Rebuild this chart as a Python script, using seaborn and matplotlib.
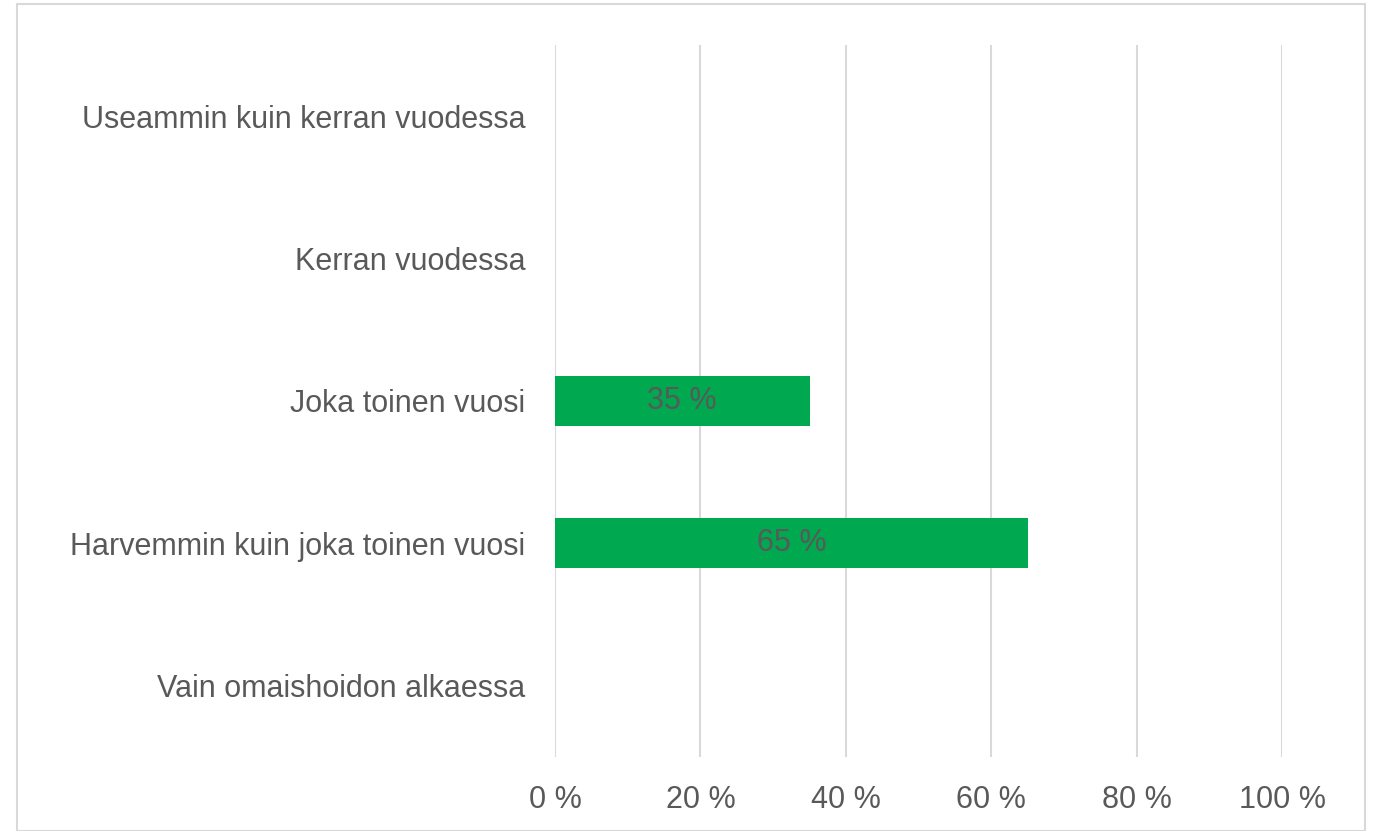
import matplotlib
matplotlib.use("Agg")
import matplotlib.pyplot as plt
import seaborn as sns
import pandas as pd
from matplotlib.patches import Rectangle

categories = ["Useammin kuin kerran vuodessa", "Kerran vuodessa", "Joka toinen vuosi",
              "Harvemmin kuin joka toinen vuosi", "Vain omaishoidon alkaessa"]
values = [0, 0, 35, 65, 0]
xticks = [0, 20, 40, 60, 80, 100]
xtick_labels = ["0 %", "20 %", "40 %", "60 %", "80 %", "100 %"]

sns.set_style("white")
plt.rcParams['font.family'] = ['Liberation Sans', 'DejaVu Sans']

df = pd.DataFrame({"cat": categories, "val": values})

fig = plt.figure(figsize=(13.79, 8.31), dpi=100)
ax = fig.add_axes([0.4025, 0.089, 0.5272, 0.857])
sns.barplot(data=df, y="cat", x="val", order=categories, color="#00A84F",
            width=0.35, ax=ax, saturation=1, linewidth=0, edgecolor="none")

ax.set_xlim(0, 100)
ax.set_xticks(xticks)
ax.set_xticklabels(xtick_labels)
ax.set_xlabel("")
ax.set_ylabel("")
for s in ax.spines.values():
    s.set_visible(False)
ax.grid(axis="x", color="#d9d9d9", linewidth=1.5)
ax.set_axisbelow(True)
ax.tick_params(axis="x", length=0, pad=20, labelsize=22, labelcolor="#595959")
ax.tick_params(axis="y", length=0, pad=21.5, labelsize=22, labelcolor="#595959")

for i, v in enumerate(values):
    if v > 0:
        ax.text(v / 2, i, f"{v} %", ha="center", va="center", fontsize=22, color="#595959")

fig.patches.append(Rectangle((17 / 1379, 0.0), 1348 / 1379, 1 - 4 / 831,
                             transform=fig.transFigure, fill=False,
                             edgecolor="#d9d9d9", linewidth=1.5))

fig.savefig("out.png", dpi=100)
